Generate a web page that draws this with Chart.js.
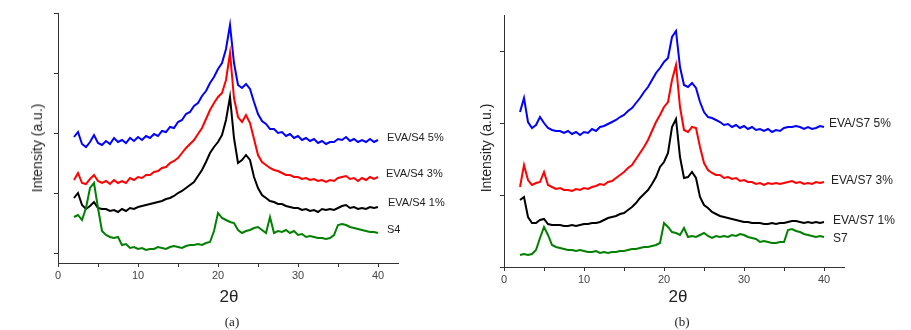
<!DOCTYPE html>
<html>
<head>
<meta charset="utf-8">
<script src="https://cdn.jsdelivr.net/npm/chart.js@4.4.0/dist/chart.umd.min.js"></script>
<style>
  body { margin: 0; background: #fff; }
  #wrap { position: relative; width: 911px; height: 330px; overflow: hidden; font-family: "Liberation Sans", Arial, sans-serif; color: #222; }
  canvas { position: absolute; top: 0; }
  .lbl { position: absolute; white-space: nowrap; transform: translateY(-50%); }
  .ytitle { position: absolute; white-space: nowrap; font-size: 14px; transform: translate(-50%, -50%) rotate(-90deg); }
  .xtitle { position: absolute; white-space: nowrap; font-size: 17px; transform: translate(-50%, -50%); }
  .cap { position: absolute; white-space: nowrap; font-family: "Liberation Serif", "Times New Roman", serif; font-size: 13px; transform: translate(-50%, -50%); }
</style>
</head>
<body>
<div id="wrap">
  <canvas id="chartA" width="440" height="330" style="left:0"></canvas>
  <canvas id="chartB" width="471" height="330" style="left:440px"></canvas>

  <div class="ytitle" style="left:37px; top:148px">Intensity (a.u.)</div>
  <div class="xtitle" style="left:229px; top:297px">2θ</div>
  <div class="cap" style="left:232px; top:322px">(a)</div>
  <div class="lbl" style="left:387px; top:137px; font-size:11px">EVA/S4 5%</div>
  <div class="lbl" style="left:386px; top:173px; font-size:11px">EVA/S4 3%</div>
  <div class="lbl" style="left:388px; top:202px; font-size:11px">EVA/S4 1%</div>
  <div class="lbl" style="left:387px; top:229px; font-size:11px">S4</div>

  <div class="ytitle" style="left:486px; top:148px">Intensity (a.u.)</div>
  <div class="xtitle" style="left:678px; top:297px">2θ</div>
  <div class="cap" style="left:682px; top:322px">(b)</div>
  <div class="lbl" style="left:829px; top:123px; font-size:12px">EVA/S7 5%</div>
  <div class="lbl" style="left:831px; top:180px; font-size:12px">EVA/S7 3%</div>
  <div class="lbl" style="left:833px; top:220px; font-size:12px">EVA/S7 1%</div>
  <div class="lbl" style="left:833px; top:238px; font-size:12px">S7</div>
</div>

<script>
// 2theta grid (degrees), shared by all curves
var twoTheta = [2,2.5,3,3.5,4,4.5,5,5.5,6,6.5,
  7,7.5,8,8.5,9,9.5,10,10.5,11,11.5,
  12,12.5,13,13.5,14,14.5,15,15.5,16,16.5,
  17,17.5,18,18.5,19,19.5,20,20.5,21,21.5,
  22,22.5,23,23.5,24,24.5,25,25.5,26,26.5,
  27,27.5,28,28.5,29,29.5,30,30.5,31,31.5,
  32,32.5,33,33.5,34,34.5,35,35.5,36,36.5,
  37,37.5,38,38.5,39,39.5,40];

var xTicks = [0,5,10,15,20,25,30,35,40];

// panel (a) - intensity in a.u. (stacked curves)
var evaS4_5 = [116,121,109,106,111,118,110,108,112,109,
  115,111,113,110,115,112,116,113,117,115,
  119,117,122,121,126,125,131,133,139,141,
  147,150,157,162,170,176,184,190,204,228,
  190,168,165,169,164,151,139,132,129,124,
  124,120,121,117,119,115,117,113,115,112,
  114,110,112,109,111,111,114,113,116,112,
  114,111,113,111,114,111,113];
var evaS4_3 = [73,80,70,69,74,78,72,70,72,69,
  73,70,72,70,75,73,76,75,78,78,
  81,82,85,86,90,92,95,100,105,109,
  113,119,125,134,143,150,156,160,173,200,
  155,136,131,138,130,114,98,91,88,85,
  83,82,80,78,78,76,76,74,75,73,
  74,72,73,71,73,72,75,76,77,74,
  75,72,75,73,76,74,76];
var evaS4_1 = [55,60,48,44,47,51,45,44,44,42,
  43,41,44,42,45,44,46,47,48,49,
  50,51,52,54,55,57,60,62,65,68,
  71,77,83,91,100,106,111,118,133,156,
  115,90,93,98,93,76,65,58,55,52,
  51,49,49,47,46,45,45,43,44,42,
  43,41,44,43,44,43,45,47,48,45,
  46,44,45,44,46,45,46];
var s4 = [36,38,33,45,65,70,45,22,18,16,
  15,16,8,9,5,6,4,5,3,4,
  4,6,5,4,6,7,6,5,7,8,
  8,9,8,10,11,22,40,35,33,31,
  30,23,20,22,23,25,26,23,20,36,
  20,22,21,23,20,22,18,19,16,17,
  16,15,15,14,15,18,28,29,28,26,
  25,24,23,22,21,21,20];

// panel (b)
var evaS7_5 = [155,169,145,139,142,150,144,139,137,136,
  136,134,136,133,135,132,135,134,138,136,
  140,141,143,145,147,150,152,156,159,164,
  169,175,180,187,194,199,205,209,230,236,
  200,182,180,184,179,165,155,150,149,147,
  145,142,143,140,142,139,141,138,140,137,
  138,136,138,135,137,136,139,140,140,141,
  140,138,140,138,139,141,140];
var evaS7_3 = [80,102,87,82,84,85,95,82,80,78,
  79,77,77,76,78,77,79,78,80,81,
  83,82,85,86,89,92,95,99,102,108,
  114,120,127,136,145,152,160,165,187,202,
  160,137,135,140,139,120,104,97,94,92,
  92,89,90,88,89,86,87,85,85,83,
  84,82,84,83,84,83,84,85,86,84,
  85,83,84,83,85,84,85];
var evaS7_1 = [67,70,50,44,44,47,48,43,42,42,
  42,41,41,42,41,42,43,43,44,44,
  45,47,49,50,51,53,54,57,60,64,
  69,73,77,83,90,100,105,114,140,148,
  110,89,90,95,89,70,62,59,55,53,
  51,50,49,48,47,46,45,45,44,44,
  44,43,43,44,43,44,44,45,46,46,
  45,44,45,44,45,44,45];
var s7 = [12,13,12,13,17,29,40,32,22,20,
  19,18,17,17,16,17,16,15,15,16,
  14,15,14,15,15,16,16,17,18,18,
  19,20,20,21,22,24,44,40,35,34,
  32,39,30,31,30,32,34,31,29,31,
  30,31,30,32,31,33,32,30,29,28,
  25,26,25,24,24,25,25,37,38,36,
  35,33,32,31,30,31,30];

var colBlue = 'rgb(0,0,255)', colRed = 'rgb(255,0,0)', colBlack = '#000', colGreen = 'rgb(0,128,0)';

function pts(ys) {
  return twoTheta.map(function (x, i) { return { x: x, y: ys[i] }; });
}

function makeChart(id, series, yMin, yMax, yTicks, box) {
  var sets = series.map(function (s) {
    return { label: s.name, data: pts(s.values), borderColor: s.color, borderWidth: 2, pointRadius: 0, tension: 0, fill: false };
  });
  return new Chart(document.getElementById(id), {
    type: 'line',
    data: { datasets: sets },
    options: {
      responsive: false,
      animation: false,
      devicePixelRatio: 1,
      layout: { padding: { left: 0, top: box.top, right: box.right, bottom: 0 } },
      plugins: { legend: { display: false }, tooltip: { enabled: false } },
      scales: {
        x: {
          type: 'linear', min: 0, max: 42.5,
          afterBuildTicks: function (s) { s.ticks = xTicks.map(function (v) { return { value: v }; }); },
          afterFit: function (s) { s.height = box.xh; },
          ticks: {
            autoSkip: false, maxRotation: 0, padding: 2, color: '#444',
            font: { family: 'Liberation Sans, Arial', size: 11 },
            callback: function (v) { return v % 10 === 0 ? v : ''; }
          },
          grid: { drawOnChartArea: false, tickLength: 4, color: '#333' },
          border: { color: '#333', width: 1 }
        },
        y: {
          type: 'linear', min: yMin, max: yMax,
          afterBuildTicks: function (s) { s.ticks = yTicks.map(function (v) { return { value: v }; }); },
          afterFit: function (s) { s.width = box.yw; },
          ticks: { display: false },
          grid: { drawOnChartArea: false, tickLength: 4, color: '#333' },
          border: { color: '#333', width: 1 }
        }
      }
    }
  });
}

makeChart('chartA', [
  { name: 'S4', values: s4, color: colGreen },
  { name: 'EVA/S4 1%', values: evaS4_1, color: colBlack },
  { name: 'EVA/S4 3%', values: evaS4_3, color: colRed },
  { name: 'EVA/S4 5%', values: evaS4_5, color: colBlue }
], -10, 240, [0, 60, 120, 180, 240], { top: 13, right: 42, xh: 67, yw: 58 });

makeChart('chartB', [
  { name: 'S7', values: s7, color: colGreen },
  { name: 'EVA/S7 1%', values: evaS7_1, color: colBlack },
  { name: 'EVA/S7 3%', values: evaS7_3, color: colRed },
  { name: 'EVA/S7 5%', values: evaS7_5, color: colBlue }
], 0, 252, [0, 72, 144, 216], { top: 15, right: 67, xh: 63, yw: 64 });
</script>
</body>
</html>
